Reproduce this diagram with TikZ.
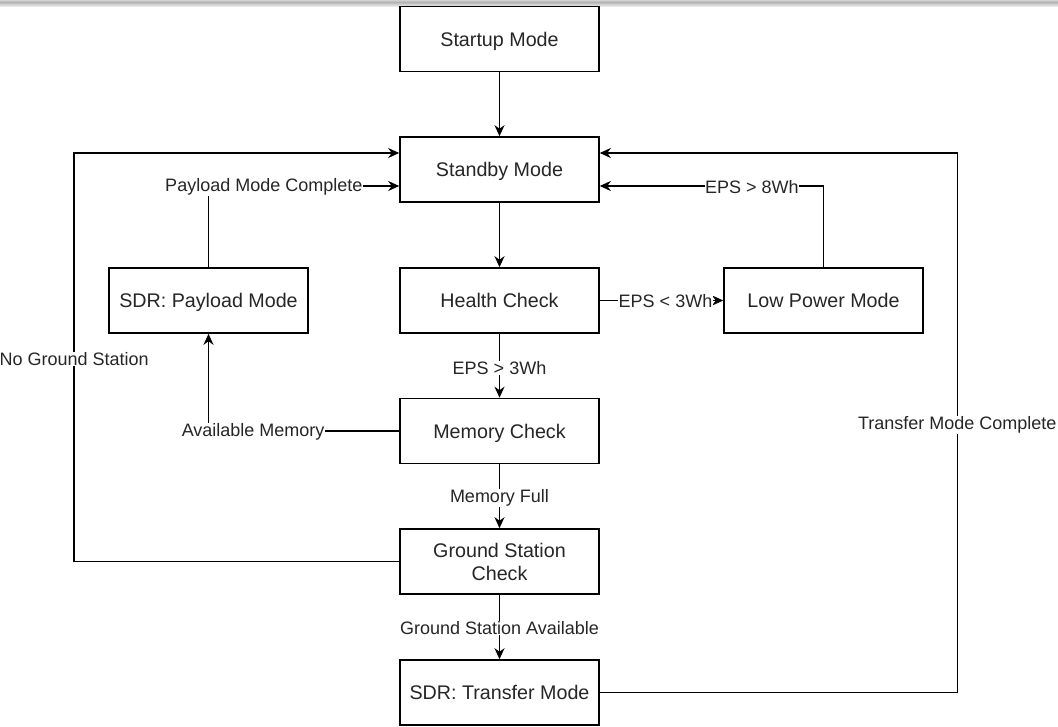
\documentclass[tikz,border=0pt]{standalone}
\usepackage{fontspec}
\setmainfont{Liberation Sans}
\usetikzlibrary{arrows.meta,positioning}
\begin{document}
\begin{tikzpicture}[x=1pt,y=-1pt,
  box/.style={draw=black,fill=white,line width=1.6pt,minimum width=199pt,minimum height=65pt,
    inner sep=2pt,align=center,text=black!85,text depth=0pt,font=\fontsize{19.7}{23}\selectfont},
  lbl/.style={fill=white,inner sep=0.5pt,text=black!85,font=\fontsize{18}{21}\selectfont},
  conn/.style={line width=1.6pt,draw=black},
  arr/.style={conn,-{Stealth[length=11pt,width=10pt,inset=3.5pt]}}]
\useasboundingbox (0,0) rectangle (1058,726);
% top screenshot bar
\shade[top color=gray!35,bottom color=gray!60,draw=none] (0,0) rectangle (1058,2);
\shade[top color=gray!60,bottom color=gray!12,draw=none] (0,2) rectangle (1058,6.5);

\node[box] (startup)  at (499.5,39)   {Startup Mode};
\node[box] (standby)  at (499.5,169.5){Standby Mode};
\node[box] (health)   at (499.5,300.5){Health Check};
\node[box] (memory)   at (499.5,431)  {Memory Check};
\node[box] (gs)       at (499.5,561.5){Ground Station\\Check};
\node[box] (transfer) at (499.5,692.5){SDR: Transfer Mode};
\node[box] (payload)  at (208.5,300.5){SDR: Payload Mode};
\node[box] (low)      at (823.5,300.5){Low Power Mode};

\draw[arr] (startup) -- (standby);
\draw[arr] (standby) -- (health);
\draw[arr] (health) -- node[lbl,yshift=-2pt]{EPS > 3Wh} (memory);
\draw[arr] (memory) -- node[lbl,yshift=-2pt]{Memory Full} (gs);
\draw[arr] (gs) -- node[lbl,yshift=-1pt]{Ground Station Available} (transfer);
\draw[arr] (health) -- node[lbl,xshift=4pt,yshift=-1pt]{EPS < 3Wh} (low);

\draw[arr] (low.north) |- node[lbl,pos=0.66,yshift=-1pt]{EPS > 8Wh} ([yshift=-16.5pt]standby.east);
\draw[arr] (transfer.east) -- ++(357.5,0) coordinate (tc)
   |- node[lbl,pos=0.25,yshift=-2pt]{Transfer Mode Complete} ([yshift=16.5pt]standby.east);
\draw[arr] (gs.west) -- ++(-325,0) coordinate (gc)
   |- node[lbl,pos=0.25,yshift=-2pt]{No Ground Station} ([yshift=16.5pt]standby.west);
\draw[arr] (payload.north) |- node[lbl,pos=0.645,yshift=-1pt]{Payload Mode Complete} ([yshift=-16.5pt]standby.west);
\draw[arr] (memory.west) -| node[lbl,pos=0.383,yshift=-1pt]{Available Memory} (payload.south);
\end{tikzpicture}
\end{document}
